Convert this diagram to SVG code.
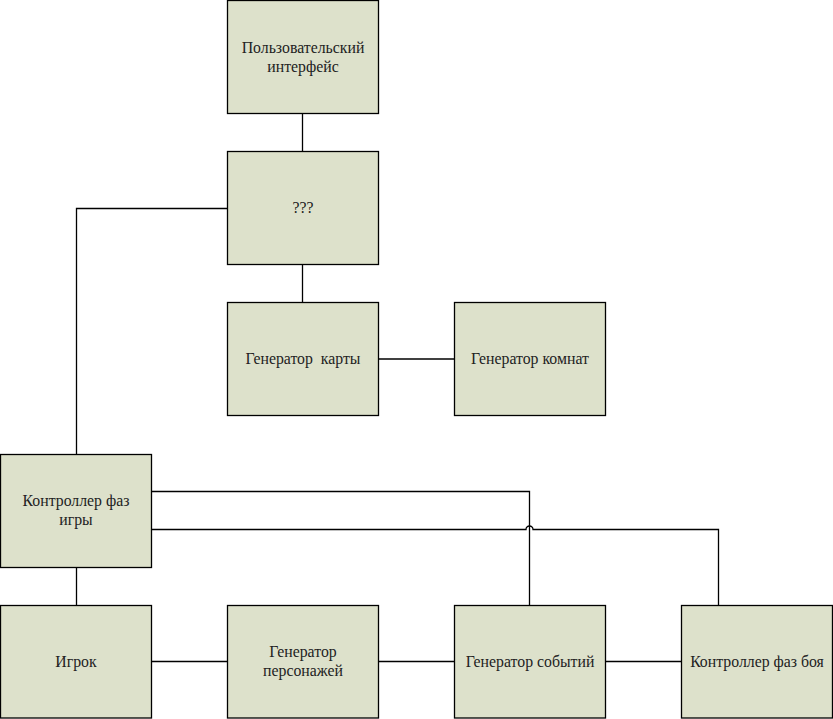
<svg xmlns="http://www.w3.org/2000/svg" width="833" height="719" viewBox="0 0 833 719">
<style>
.box{fill:#dde1cb;stroke:#000;stroke-width:1.3}
.lbl{font-family:"Liberation Serif","Times New Roman",serif;font-size:15.8px;fill:#222;text-anchor:middle;white-space:pre}
.c{fill:none;stroke:#000;stroke-width:1.3}
</style>
<rect width="833" height="719" fill="#fff"/>
<g id="connectors">
<path class="c" d="M302.5 113.5V151.5"/>
<path class="c" d="M302.5 264.5V302.5"/>
<path class="c" d="M378.5 359H454.5"/>
<path class="c" d="M227.5 208.5H76.5V454.5"/>
<path class="c" d="M76.5 567.5V605.5"/>
<path class="c" d="M151.5 491.5H529.5V605.5"/>
<path class="c" d="M151.5 529.5H526A3.5 3.5 0 0 1 533 529.5H718.5V605.5"/>
<path class="c" d="M151.5 661.5H227.5"/>
<path class="c" d="M378.5 661.5H454.5"/>
<path class="c" d="M605.5 661.5H681.5"/>
</g>
<g id="ui">
<rect class="box" x="227.5" y="0.5" width="151" height="113"/>
<text class="lbl" x="303" y="52.5">Пользовательский</text>
<text class="lbl" x="303" y="71.5">интерфейс</text>
</g>
<g id="unknown">
<rect class="box" x="227.5" y="151.5" width="151" height="113"/>
<text class="lbl" x="303" y="213">???</text>
</g>
<g id="map-gen">
<rect class="box" x="227.5" y="302.5" width="151" height="113"/>
<text class="lbl" x="303" y="364" xml:space="preserve">Генератор  карты</text>
</g>
<g id="room-gen">
<rect class="box" x="454.5" y="302.5" width="151" height="113"/>
<text class="lbl" x="530" y="364">Генератор комнат</text>
</g>
<g id="game-phase">
<rect class="box" x="0.5" y="454.5" width="151" height="113"/>
<text class="lbl" x="76" y="506">Контроллер фаз</text>
<text class="lbl" x="76" y="525">игры</text>
</g>
<g id="player">
<rect class="box" x="0.5" y="605.5" width="151" height="112.5"/>
<text class="lbl" x="76" y="667">Игрок</text>
</g>
<g id="char-gen">
<rect class="box" x="227.5" y="605.5" width="151" height="112.5"/>
<text class="lbl" x="303" y="657">Генератор</text>
<text class="lbl" x="303" y="676">персонажей</text>
</g>
<g id="event-gen">
<rect class="box" x="454.5" y="605.5" width="151" height="112.5"/>
<text class="lbl" x="530" y="667">Генератор событий</text>
</g>
<g id="battle-phase">
<rect class="box" x="681.5" y="605.5" width="151" height="112.5"/>
<text class="lbl" x="757" y="667">Контроллер фаз боя</text>
</g>
</svg>
